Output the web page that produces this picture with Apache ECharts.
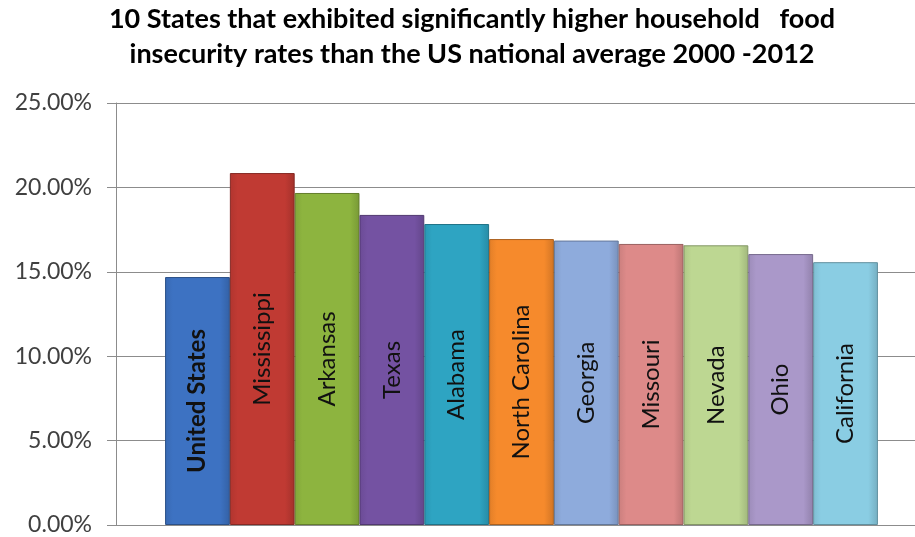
<!DOCTYPE html>
<html>
<head>
<meta charset="utf-8">
<script src="https://cdn.jsdelivr.net/npm/echarts@6/dist/echarts.min.js"></script>
<style>
html,body{margin:0;padding:0;background:#fff;}
#chart{width:915px;height:537px;}
</style>
</head>
<body>
<div id="chart"></div>
<script>
var states = ['United States','Mississippi','Arkansas','Texas','Alabama','North Carolina','Georgia','Missouri','Nevada','Ohio','California'];
var rates = [0.1469, 0.2085, 0.1967, 0.1837, 0.1783, 0.1694, 0.1685, 0.1665, 0.1657, 0.1605, 0.1557];
var barColors = ['#3d72c2','#c03a33','#8db43f','#7452a2','#2ea4c2','#f68a2c','#8eabdc','#dd8a89','#bdd792','#aa98c9','#8acde3'];
var titleLines = ['10 States that exhibited significantly higher household   food', 'insecurity rates than the US national average 2000 -2012'];
var yTicks = {min: 0, max: 0.25, interval: 0.05};

function shade(hex, f) {
  var n = parseInt(hex.slice(1), 16);
  var r = (n >> 16) & 255, g = (n >> 8) & 255, b = n & 255;
  function c(v){ v = f < 0 ? v * (1 + f) : v + (255 - v) * f; return Math.max(0, Math.min(255, Math.round(v))); }
  return 'rgb(' + c(r) + ',' + c(g) + ',' + c(b) + ')';
}

var series = states.map(function (s, i) {
  return {
    name: s,
    type: 'bar',
    barGap: '0%',
    barCategoryGap: '12.1%',
    data: [rates[i]],
    itemStyle: {
      color: {
        type: 'linear', x: 0, y: 0, x2: 1, y2: 0,
        colorStops: [
          {offset: 0, color: shade(barColors[i], -0.08)},
          {offset: 0.12, color: barColors[i]},
          {offset: 0.85, color: barColors[i]},
          {offset: 1, color: shade(barColors[i], -0.15)}
        ]
      },
      borderColor: shade(barColors[i], -0.3),
      borderWidth: 1
    },
    label: {
      show: true,
      position: 'inside',
      rotate: 90,
      formatter: s,
      color: '#111',
      fontFamily: 'Lato',
      fontSize: 24,
      fontWeight: i === 0 ? 'bold' : 'normal'
    }
  };
});

var chart = echarts.init(document.getElementById('chart'), null, {renderer: 'canvas'});
chart.setOption({
  animation: false,
  title: {
    text: titleLines.join('\n'),
    left: 472,
    top: 0,
    textAlign: 'center',
    padding: [2, 0, 0, 0],
    textStyle: {
      fontFamily: 'Lato',
      fontWeight: 'bold',
      fontSize: 27,
      lineHeight: 35,
      color: '#000'
    }
  },
  grid: {left: 116, right: -12, top: 103, bottom: 12, containLabel: false, outerBoundsMode: 'none'},
  xAxis: {
    type: 'category',
    data: [''],
    axisLine: {show: true, lineStyle: {color: '#8c8c8c', width: 1}},
    axisTick: {show: false},
    axisLabel: {show: false}
  },
  yAxis: {
    type: 'value',
    min: yTicks.min,
    max: yTicks.max,
    interval: yTicks.interval,
    axisLine: {show: true, lineStyle: {color: '#8c8c8c', width: 1}},
    axisTick: {show: true, length: 9, lineStyle: {color: '#8c8c8c'}},
    splitLine: {show: true, lineStyle: {color: '#8c8c8c', width: 1}},
    axisLabel: {
      margin: 24,
      fontFamily: 'Lato',
      fontSize: 23,
      color: '#404040',
      formatter: function (v) { return (v * 100).toFixed(2) + '%'; }
    }
  },
  series: series
});
</script>
</body>
</html>
